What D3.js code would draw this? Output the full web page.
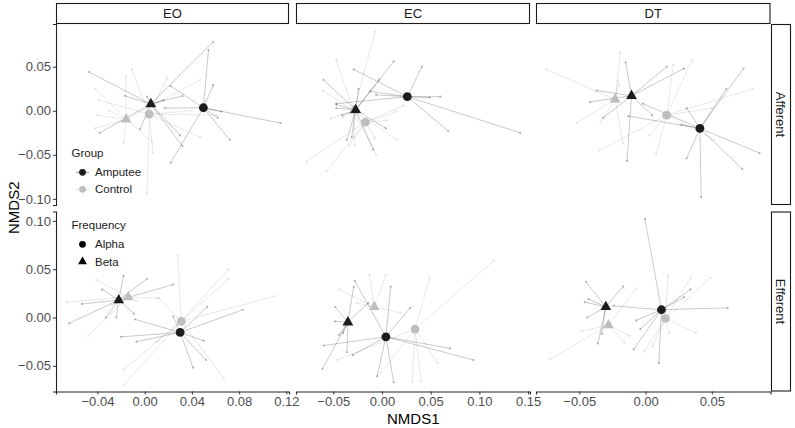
<!DOCTYPE html>
<html>
<head>
<meta charset="utf-8">
<title>NMDS spider plot</title>
<script src="https://d3js.org/d3.v7.min.js"></script>
<style>
  body { margin: 0; background: #fff; }
  text { font-family: "Liberation Sans", Arial, sans-serif; }
</style>
</head>
<body>
<script>
var conditions = ["EO", "EC", "DT"];
var directions = ["Afferent", "Efferent"];
var groups = ["Amputee", "Control"];
var freqs = ["Alpha", "Beta"];

var xTicks = [[-0.04, 0, 0.04, 0.08, 0.12], [-0.05, 0, 0.05, 0.10, 0.15], [-0.05, 0, 0.05]];
var yTicks = [[-0.10, -0.05, 0, 0.05], [-0.05, 0, 0.05, 0.10]];
var xDomains = [[-0.0751, 0.1222], [-0.0883, 0.152], [-0.0827, 0.0943]];
var yDomains = [[-0.107, 0.0985], [-0.0766, 0.1097]];

// centroids: condition, direction, group index, freq index, NMDS1, NMDS2
var centroids = [
  ["EO", "Afferent", 1, 1, -0.0156, -0.0098], ["EO", "Afferent", 1, 0, 0.0038, -0.0038],
  ["EO", "Afferent", 0, 1, 0.0052, 0.0076], ["EO", "Afferent", 0, 0, 0.0497, 0.0034],
  ["EC", "Afferent", 1, 1, -0.029, 0.000], ["EC", "Afferent", 1, 0, -0.017, -0.013],
  ["EC", "Afferent", 0, 1, -0.027, 0.001], ["EC", "Afferent", 0, 0, 0.026, 0.016],
  ["DT", "Afferent", 1, 1, -0.023, 0.013], ["DT", "Afferent", 1, 0, 0.016, -0.005],
  ["DT", "Afferent", 0, 1, -0.0106, 0.017], ["DT", "Afferent", 0, 0, 0.041, -0.020],
  ["EO", "Efferent", 1, 1, -0.014, 0.021], ["EO", "Efferent", 1, 0, 0.031, -0.004],
  ["EO", "Efferent", 0, 1, -0.022, 0.018], ["EO", "Efferent", 0, 0, 0.030, -0.0155],
  ["EC", "Efferent", 1, 1, -0.008, 0.011], ["EC", "Efferent", 1, 0, 0.034, -0.012],
  ["EC", "Efferent", 0, 1, -0.035, -0.005], ["EC", "Efferent", 0, 0, 0.004, -0.020],
  ["DT", "Efferent", 1, 1, -0.028, -0.008], ["DT", "Efferent", 1, 0, 0.015, -0.001],
  ["DT", "Efferent", 0, 1, -0.030, 0.011], ["DT", "Efferent", 0, 0, 0.012, 0.008]
];

// site scores per panel: group index, freq index, NMDS1, NMDS2
var eoAff = [
  [0,0,0.054,0.069],[0,0,0.058,0.029],[0,0,0.115,-0.014],[0,0,0.072,-0.033],[0,0,0.022,-0.059],
  [0,0,0.022,0.028],[0,0,0.065,-0.001],[0,0,0.017,0.003],[0,0,0.062,-0.008],
  [0,1,-0.047,0.044],[0,1,0.058,0.078],[0,1,0.032,-0.040],[0,1,0.030,-0.028],[0,1,-0.038,-0.025],
  [0,1,0.032,0.017],[0,1,-0.017,0.017],[0,1,-0.004,-0.021],[0,1,0.002,0.016],[0,1,0.016,0.012],
  [1,0,-0.011,0.047],[1,0,0.019,0.037],[1,0,0.047,-0.030],[1,0,0.007,-0.048],[1,0,0.002,-0.094],
  [1,0,0.061,-0.005],[1,0,-0.039,0.012],[1,0,0.040,0.000],
  [1,1,-0.016,0.039],[1,1,-0.042,0.025],[1,1,-0.040,-0.005],[1,1,-0.042,-0.020],[1,1,-0.018,-0.037],
  [1,1,0.006,-0.035],[1,1,-0.030,0.000],[1,1,0.047,0.035]
];
var ecAff = [
  [0,0,-0.029,0.047],[0,0,0.041,0.050],[0,0,0.142,-0.025],[0,0,0.068,-0.023],[0,0,0.060,0.016],
  [0,0,0.049,0.015],[0,0,-0.012,0.022],[0,0,-0.006,0.018],[0,0,-0.047,0.008],
  [0,1,-0.060,0.035],[0,1,0.012,0.056],[0,1,-0.003,0.035],[0,1,-0.047,0.007],[0,1,-0.047,0.003],
  [0,1,0.004,-0.020],[0,1,-0.009,-0.044],[0,1,-0.036,-0.033],[0,1,-0.031,-0.030],[0,1,-0.024,0.025],
  [0,1,-0.041,-0.005],
  [1,0,-0.078,-0.058],[1,0,-0.057,-0.069],[1,0,0.015,-0.001],[1,0,0.022,0.006],[1,0,-0.007,-0.031],
  [1,0,-0.034,-0.040],[1,0,0.005,-0.011],
  [1,1,-0.007,0.090],[1,1,-0.047,0.058],[1,1,-0.061,0.023],[1,1,-0.053,-0.009],[1,1,-0.028,-0.039],
  [1,1,-0.006,-0.050],[1,1,0.015,-0.033],[1,1,-0.040,-0.007]
];
var dtAff = [
  [0,0,0.074,0.048],[0,0,0.061,0.025],[0,0,0.031,0.003],[0,0,-0.013,-0.006],[0,0,0.031,-0.054],
  [0,0,0.042,-0.098],[0,0,0.073,-0.066],[0,0,0.086,-0.048],[0,0,-0.002,0.008],[0,0,0.027,-0.016],
  [0,1,-0.015,0.055],[0,1,0.016,0.050],[0,1,0.029,0.048],[0,1,-0.037,0.023],[0,1,-0.042,0.010],
  [0,1,-0.032,-0.008],[0,1,-0.014,-0.057],[0,1,0.005,-0.005],
  [1,0,0.035,0.057],[1,0,0.081,0.025],[1,0,-0.035,-0.045],[1,0,0.008,-0.049],[1,0,0.052,-0.033],
  [1,0,0.021,0.052],[1,0,0.003,-0.028],[1,0,0.050,0.003],
  [1,1,-0.075,0.047],[1,1,-0.019,0.066],[1,1,-0.021,0.034],[1,1,-0.052,-0.014],[1,1,-0.034,-0.013],
  [1,1,-0.017,-0.037],[1,1,-0.020,0.030]
];
var eoEff = [
  [0,0,-0.020,-0.020],[0,0,-0.007,-0.025],[0,0,0.041,-0.052],[0,0,0.052,-0.044],[0,0,0.050,-0.024],
  [0,0,0.053,0.011],[0,0,0.083,0.008],[0,0,0.024,0.001],[0,0,-0.008,-0.002],
  [0,1,-0.018,0.043],[0,1,0.002,0.040],[0,1,0.024,0.034],[0,1,-0.053,0.014],[0,1,-0.064,-0.006],
  [0,1,-0.033,0.000],[0,1,-0.024,0.000],[0,1,-0.009,0.004],[0,1,-0.036,0.029],
  [1,0,0.028,0.064],[1,0,0.071,0.050],[1,0,0.071,0.040],[1,0,0.110,0.022],[1,0,0.067,-0.063],
  [1,0,-0.018,-0.054],[1,0,-0.018,-0.070],[1,0,0.010,-0.025],[1,0,0.012,0.020],
  [1,1,-0.066,0.016],[1,1,-0.041,0.039],[1,1,-0.048,-0.019],[1,1,0.011,0.020],[1,1,-0.007,0.017],
  [1,1,-0.028,0.013]
];
var ecEff = [
  [0,0,-0.028,0.038],[0,0,0.009,0.032],[0,0,0.029,0.010],[0,0,0.070,-0.032],[0,0,0.094,-0.044],
  [0,0,0.012,-0.067],[0,0,-0.005,-0.061],[0,0,-0.060,-0.029],[0,0,-0.030,-0.039],
  [0,1,-0.048,0.011],[0,1,-0.048,-0.004],[0,1,-0.029,0.032],[0,1,-0.014,0.015],[0,1,-0.061,-0.053],
  [0,1,-0.036,-0.036],[0,1,-0.040,-0.016],[0,1,-0.044,-0.018],
  [1,0,0.049,0.041],[1,0,0.115,0.059],[1,0,0.057,-0.047],[1,0,0.031,-0.067],[1,0,0.040,-0.066],
  [1,0,-0.001,-0.057],[1,0,-0.046,-0.044],
  [1,1,-0.044,0.029],[1,1,-0.013,0.044],[1,1,0.004,0.044],[1,1,0.019,0.005],[1,1,-0.026,0.015]
];
var dtEff = [
  [0,0,-0.0005,0.102],[0,0,0.062,0.010],[0,0,0.034,0.029],[0,0,0.029,0.021],[0,0,0.010,-0.047],
  [0,0,-0.009,-0.033],[0,0,-0.004,-0.012],[0,0,-0.024,0.012],[0,0,-0.007,-0.003],
  [0,1,-0.045,0.037],[0,1,-0.017,0.032],[0,1,-0.046,0.016],[0,1,-0.043,0.019],[0,1,-0.044,0.000],
  [0,1,-0.036,-0.027],[0,1,-0.033,-0.017],
  [1,0,0.017,0.043],[1,0,0.034,0.041],[1,0,0.049,0.041],[1,0,0.038,-0.016],[1,0,-0.001,-0.035],
  [1,0,0.018,-0.016],[1,0,0.005,-0.030],
  [1,1,-0.072,-0.043],[1,1,-0.048,-0.014],[1,1,-0.007,0.030],[1,1,-0.012,-0.019],[1,1,-0.016,-0.026]
];

var sites = {
  "EO.Afferent": eoAff, "EC.Afferent": ecAff, "DT.Afferent": dtAff,
  "EO.Efferent": eoEff, "EC.Efferent": ecEff, "DT.Efferent": dtEff
};

var width = 795, height = 428;
var colX = [[56, 289], [296, 530], [536, 770.5]];
var rowY = [[24, 205], [211.5, 391.5]];

var pointCol = ["#1c1c1c", "#bebebe"];
var lineCol = ["#000000", "#bebebe"];
var lineOp = [0.27, 0.42];
var triangle = d3.symbol().type(d3.symbolTriangle).size(50);
var fmt = d3.format(".2f");

var svg = d3.select("body").append("svg")
  .attr("width", width)
  .attr("height", height);

conditions.forEach(function(cond, c) {
  directions.forEach(function(dir, r) {
    var x = d3.scaleLinear().domain(xDomains[c]).range(colX[c]);
    var y = d3.scaleLinear().domain(yDomains[r]).range([rowY[r][1], rowY[r][0]]);
    var g = svg.append("g");
    var cents = centroids.filter(function(d) { return d[0] == cond && d[1] == dir; });
    var pts = sites[cond + "." + dir];

    function centre(p) {
      return cents.filter(function(d) { return d[2] == p[0] && d[3] == p[1]; })[0];
    }

    // spider lines, controls below amputees
    [1, 0].forEach(function(gi) {
      var sub = pts.filter(function(p) { return p[0] == gi; });
      g.selectAll(null).data(sub).enter().append("line")
        .attr("x1", function(p) { return x(centre(p)[4]); })
        .attr("y1", function(p) { return y(centre(p)[5]); })
        .attr("x2", function(p) { return x(p[2]); })
        .attr("y2", function(p) { return y(p[3]); })
        .attr("stroke", lineCol[gi])
        .attr("stroke-opacity", lineOp[gi])
        .attr("stroke-width", 0.8);
      g.selectAll(null).data(sub).enter().append("circle")
        .attr("cx", function(p) { return x(p[2]); })
        .attr("cy", function(p) { return y(p[3]); })
        .attr("r", 1.1)
        .attr("fill", lineCol[gi])
        .attr("fill-opacity", lineOp[gi]);
    });

    // centroids
    cents.forEach(function(d) {
      if (d[3] == 0) {
        g.append("circle")
          .attr("cx", x(d[4])).attr("cy", y(d[5]))
          .attr("r", 4.4)
          .attr("fill", pointCol[d[2]]);
      } else {
        g.append("path")
          .attr("d", triangle)
          .attr("transform", "translate(" + x(d[4]) + "," + y(d[5]) + ")")
          .attr("fill", pointCol[d[2]]);
      }
    });

    // y axis in first column only
    if (c == 0) {
      var ya = svg.append("g").attr("transform", "translate(" + colX[0][0] + ",0)")
        .call(d3.axisLeft(y).tickValues(yTicks[r]).tickFormat(fmt).tickSizeOuter(0).tickSize(3).tickPadding(2));
      ya.select(".domain").attr("stroke", "#222").attr("stroke-width", 1.1);
      ya.selectAll(".tick line").attr("stroke", "#333");
      ya.selectAll("text").attr("fill", "#4d4d4d").style("font-size", "13px");
    }
    // x axis in bottom row only
    if (r == 1) {
      var xa = svg.append("g").attr("transform", "translate(0," + rowY[1][1] + ")")
        .call(d3.axisBottom(x).tickValues(xTicks[c]).tickFormat(fmt).tickSizeOuter(0).tickSize(3).tickPadding(2.5));
      xa.select(".domain").attr("stroke", "#222").attr("stroke-width", 1.1);
      xa.selectAll(".tick line").attr("stroke", "#333");
      xa.selectAll("text").attr("fill", "#4d4d4d").style("font-size", "13px");
    }
  });

  // top strip
  svg.append("rect")
    .attr("x", colX[c][0] + 0.5).attr("y", 3.5)
    .attr("width", colX[c][1] - colX[c][0] - 1).attr("height", 20)
    .attr("fill", "#fff").attr("stroke", "#1a1a1a").attr("stroke-width", 1.1);
  svg.append("text")
    .attr("x", (colX[c][0] + colX[c][1]) / 2).attr("y", 13.5)
    .attr("dy", "0.36em").attr("text-anchor", "middle")
    .style("font-size", "13px").attr("fill", "#1a1a1a")
    .text(cond);
});

// right strips
directions.forEach(function(dir, r) {
  svg.append("rect")
    .attr("x", 771.5).attr("y", rowY[r][0] + 0.5)
    .attr("width", 19).attr("height", rowY[r][1] - rowY[r][0] - 1)
    .attr("fill", "#fff").attr("stroke", "#1a1a1a").attr("stroke-width", 1.1);
  var cy = (rowY[r][0] + rowY[r][1]) / 2;
  svg.append("text")
    .attr("transform", "translate(781," + cy + ") rotate(90)")
    .attr("dy", "0.36em").attr("text-anchor", "middle")
    .style("font-size", "13px").attr("fill", "#1a1a1a")
    .text(dir);
});

// axis titles
svg.append("text")
  .attr("x", (colX[0][0] + colX[2][1]) / 2).attr("y", 424)
  .attr("text-anchor", "middle").style("font-size", "15px").attr("fill", "#000")
  .text("NMDS1");
svg.append("text")
  .attr("transform", "translate(19," + (rowY[0][0] + rowY[1][1]) / 2 + ") rotate(-90)")
  .attr("text-anchor", "middle").style("font-size", "15px").attr("fill", "#000")
  .text("NMDS2");

// legends
var lg = svg.append("g").style("font-size", "11.5px").attr("fill", "#1a1a1a");
lg.append("text").attr("x", 71.5).attr("y", 153).attr("dy", "0.36em").text("Group");
groups.forEach(function(name, i) {
  var yy = 172.3 + i * 17;
  lg.append("line").attr("x1", 76).attr("x2", 89).attr("y1", yy).attr("y2", yy)
    .attr("stroke", lineCol[i]).attr("stroke-opacity", lineOp[i] + 0.2).attr("stroke-width", 0.9);
  lg.append("circle").attr("cx", 82.5).attr("cy", yy).attr("r", 3.4).attr("fill", pointCol[i]);
  lg.append("text").attr("x", 95).attr("y", yy).attr("dy", "0.36em").text(name);
});
lg.append("text").attr("x", 71.5).attr("y", 225).attr("dy", "0.36em").text("Frequency");
freqs.forEach(function(name, i) {
  var yy = 244.3 + i * 17.4;
  if (i == 0) {
    lg.append("circle").attr("cx", 82.5).attr("cy", yy).attr("r", 3.4).attr("fill", "#000");
  } else {
    lg.append("path").attr("d", d3.symbol().type(d3.symbolTriangle).size(34))
      .attr("transform", "translate(82.5," + yy + ")").attr("fill", "#000");
  }
  lg.append("text").attr("x", 95).attr("y", yy).attr("dy", "0.36em").text(name);
});
</script>
</body>
</html>
